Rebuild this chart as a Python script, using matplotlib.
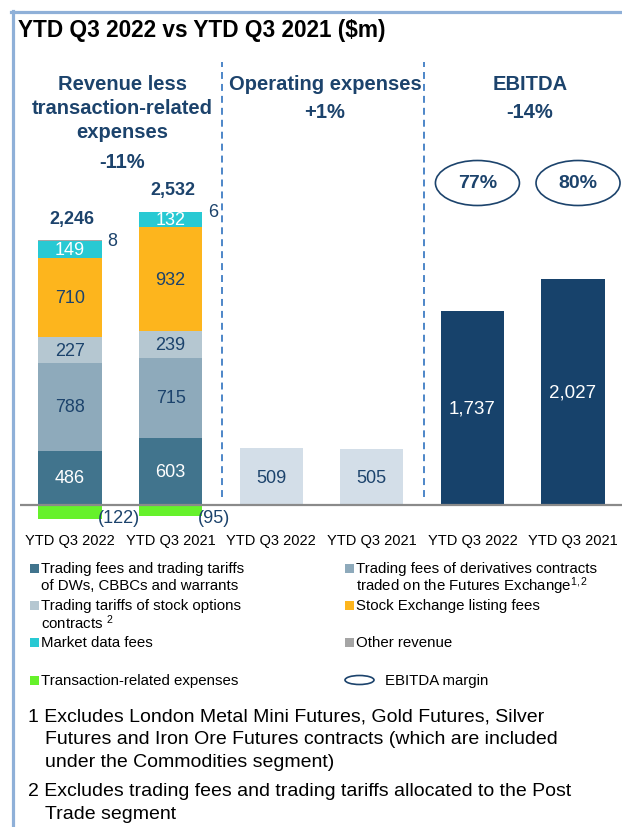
import numpy as np
import matplotlib
matplotlib.use("Agg")
import matplotlib.pyplot as plt
from matplotlib.patches import Ellipse, Rectangle
from matplotlib.lines import Line2D

plt.rcParams['font.family'] = ['Liberation Sans', 'DejaVu Sans']
plt.rcParams['mathtext.fontset'] = 'custom'
plt.rcParams['mathtext.rm'] = 'Liberation Sans'
plt.rcParams['mathtext.it'] = 'Liberation Sans'
plt.rcParams['lines.scale_dashes'] = False

# ---------------- data ----------------
categories = ['YTD Q3 2022', 'YTD Q3 2021']
dw_fees = [486, 603]
deriv_fees = [788, 715]
stock_opt = [227, 239]
listing_fees = [710, 932]
market_data = [149, 132]
other_rev = [8, 6]
txn_expenses = [-122, -95]
rev_total = [2246, 2532]
opex = [509, 505]
ebitda = [1737, 2027]
ebitda_margin = ['77%', '80%']

title = 'YTD Q3 2022 vs YTD Q3 2021 ($m)'
group_titles = [['Revenue less', 'transaction-related', 'expenses', '-11%'],
                ['Operating expenses', '+1%'],
                ['EBITDA', '-14%']]
legend_labels = ['Trading fees and trading tariffs\nof DWs, CBBCs and warrants',
                 'Trading fees of derivatives contracts\ntraded on the Futures Exchange$^{\\mathrm{1,2}}$',
                 'Trading tariffs of stock options\ncontracts $^{\\mathrm{2}}$',
                 'Stock Exchange listing fees',
                 'Market data fees',
                 'Other revenue',
                 'Transaction-related expenses',
                 'EBITDA margin']
footnotes = ['1 Excludes London Metal Mini Futures, Gold Futures, Silver\n'
             'Futures and Iron Ore Futures contracts (which are included\n'
             'under the Commodities segment)',
             '2 Excludes trading fees and trading tariffs allocated to the Post\n'
             'Trade segment']

# ---------------- style ----------------
C_DW = '#41748d'
C_DERIV = '#8eaabb'
C_OPT = '#b5c7d1'
C_LIST = '#fdb51d'
C_MKT = '#28c9d3'
C_OTHER = '#a5a5a5'
C_TXN = '#66f12b'
C_OPEX = '#d3dee8'
C_EBITDA = '#17426b'
NAVY = '#1c436c'
BORDER = '#8fb0d8'
seg_colors = [C_DW, C_DERIV, C_OPT, C_LIST, C_MKT, C_OTHER]

W, H = 622, 828
fig = plt.figure(figsize=(W / 100, H / 100), dpi=100)
fig.patch.set_facecolor('white')

def fx(px):
    return px / W

def fy(py):
    return 1 - py / H

# axes geometry in pixels
ax_left, ax_right, ax_top, ax_bot = 20, 622, 60, 530
base_px = 506
px_per_unit = 0.1117
bar_c0, bar_step = 70, 100.6

ax = fig.add_axes([fx(ax_left), fy(ax_bot), (ax_right - ax_left) / W, (ax_bot - ax_top) / H])
ax.set_xlim((ax_left - bar_c0) / bar_step, (ax_right - bar_c0) / bar_step)
ax.set_ylim(-(ax_bot - base_px) / px_per_unit, (base_px - ax_top) / px_per_unit)
for s in ax.spines.values():
    s.set_visible(False)
ax.set_yticks([])

bw = 0.627
VAL_FS = 13
x_rev = np.arange(len(categories))
x_opex = x_rev + 2
x_ebitda = x_rev + 4

# stacked revenue bars
segments = [dw_fees, deriv_fees, stock_opt, listing_fees, market_data, other_rev]
label_colors = ['white', NAVY, NAVY, NAVY, 'white', None]
bottom = np.zeros(len(categories))
for seg, col, lc in zip(segments, seg_colors, label_colors):
    seg = np.array(seg, dtype=float)
    ax.bar(x_rev, seg, bw, bottom=bottom, color=col, edgecolor='none', zorder=2)
    if lc is not None:
        for xi, b, v in zip(x_rev, bottom, seg):
            ax.text(xi, b + v / 2, f'{int(v)}', ha='center', va='center',
                    color=lc, fontsize=VAL_FS, zorder=4)
    bottom = bottom + seg
stack_top = bottom.copy()

# other revenue labels (to the right of the stack top)
for xi, t, v in zip(x_rev, stack_top, other_rev):
    ax.text(xi + bw / 2 + 0.06, t, f'{v}', ha='left', va='center',
            color=NAVY, fontsize=VAL_FS)

# totals
for xi, t, v in zip(x_rev, stack_top, rev_total):
    ax.text(xi + 0.02, t + 200, f'{v:,}', ha='center', va='center',
            color=NAVY, fontsize=13, fontweight='bold')

# transaction-related expenses (negative)
ax.bar(x_rev, txn_expenses, bw, color=C_TXN, edgecolor='none', zorder=2)
for xi, v in zip(x_rev, txn_expenses):
    ax.text(xi + bw / 2 - 0.04, -115, f'({-v})', ha='left', va='center',
            color=NAVY, fontsize=VAL_FS, zorder=4)

# operating expenses
ax.bar(x_opex, opex, bw, color=C_OPEX, edgecolor='none', zorder=2)
for xi, v in zip(x_opex, opex):
    ax.text(xi, v / 2 - 5, f'{v}', ha='center', va='center', color=NAVY, fontsize=VAL_FS)

# EBITDA
ax.bar(x_ebitda, ebitda, bw, color=C_EBITDA, edgecolor='none', zorder=2)
for xi, v in zip(x_ebitda, ebitda):
    ax.text(xi, v / 2, f'{v:,}', ha='center', va='center', color='white', fontsize=13.5)

# EBITDA margin ellipses
y_ell = (base_px - 184) / px_per_unit
for xi, m in zip(x_ebitda, ebitda_margin):
    ax.add_patch(Ellipse((xi + 0.05, y_ell), 0.835, 45 / px_per_unit,
                         facecolor='white', edgecolor=NAVY, lw=1.2, zorder=3))
    ax.text(xi + 0.05, y_ell, m, ha='center', va='center', color=NAVY,
            fontsize=14, fontweight='bold', zorder=4)

# baseline
ax.axhline(0, color='#8a8a8a', lw=1.6, zorder=3)

# dividers
y_div_top = (base_px - 63) / px_per_unit
y_div_bot = (base_px - 498) / px_per_unit
for xd in [1.515, 3.515]:
    ax.plot([xd, xd], [y_div_bot, y_div_top], color='#4d86c8', lw=1.4,
            linestyle=(0, (5, 3.6)), zorder=1)

# x tick labels
all_x = np.concatenate([x_rev, x_opex, x_ebitda])
ax.set_xticks(all_x)
ax.set_xticklabels(categories * 3, fontsize=10.5, color='black')
ax.tick_params(axis='x', length=0, pad=3)

# ---------------- figure texts ----------------
# border
fig.add_artist(Line2D([fx(11), fx(622)], [fy(13), fy(13)], color=BORDER, lw=2.3))
fig.add_artist(Line2D([fx(12.5), fx(12.5)], [fy(12), fy(828)], color=BORDER, lw=2.3))

fig.text(fx(18), fy(31), title, fontsize=16.3, fontweight='bold', color='black',
         ha='left', va='center')

hdr_pos = [(122, [85, 109, 133, 162]), (325, [85, 113]), (530, [85, 113])]
for (cx, ys), lines in zip(hdr_pos, group_titles):
    for yy, t in zip(ys, lines):
        fig.text(fx(cx), fy(yy), t, fontsize=14.5, fontweight='bold', color=NAVY,
                 ha='center', va='center')

# legend
leg_colors = [C_DW, C_DERIV, C_OPT, C_LIST, C_MKT, C_OTHER, C_TXN, None]
leg_pos = [(30, 569), (345, 569), (30, 606), (345, 606), (30, 643), (345, 643),
           (30, 681), (345, 681)]
for (lx, ly), col, lab in zip(leg_pos, leg_colors, legend_labels):
    if col is not None:
        fig.add_artist(Rectangle((fx(lx), fy(ly + 4.5)), 9 / W, 9 / H,
                                 transform=fig.transFigure, facecolor=col,
                                 edgecolor='none'))
        tx = lx + 11
    else:
        fig.add_artist(Ellipse((fx(lx + 14.5), fy(ly)), 29 / W, 9 / H,
                               transform=fig.transFigure, facecolor='none',
                               edgecolor=NAVY, lw=1.2))
        tx = lx + 40
    for k, line in enumerate(lab.split('\n')):
        fig.text(fx(tx), fy(ly + 17 * k), line, fontsize=10.8, color='black',
                 ha='left', va='center')

# footnotes
fn_pos = [(28, 717), (28, 792)]
for (fxp, fyp), note in zip(fn_pos, footnotes):
    for k, line in enumerate(note.split('\n')):
        xx = fxp if k == 0 else fxp + 17
        fig.text(fx(xx), fy(fyp + 23 * k), line, fontsize=14, color='black',
                 ha='left', va='center')

fig.savefig('out.png', dpi=100, facecolor='white')
